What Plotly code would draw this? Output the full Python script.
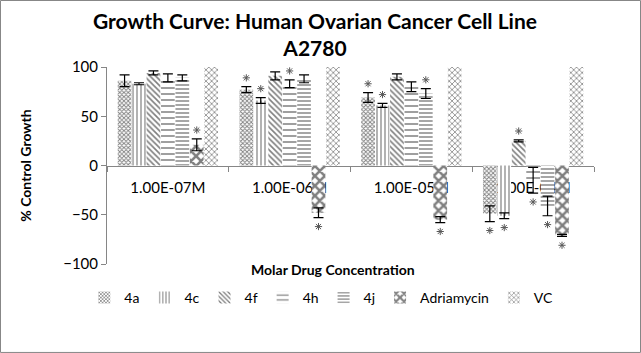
import plotly.graph_objects as go

# Molar concentrations (x categories)
concentrations = ['1.00E-07M', '1.00E-06M', '1.00E-05M', '1.00E-04M']

# % control growth, per compound
series_names = ['4a', '4c', '4f', '4h', '4j', 'Adriamycin', 'VC']
growth_4a = [86, 77, 69, -49]
growth_4c = [83, 66, 61, -51]
growth_4f = [94, 91, 90, 25]
growth_4h = [89, 83, 80, -15]
growth_4j = [89, 88, 73, -41]
growth_adr = [21, -48, -55, -71]
growth_vc = [100, 100, 100, 100]

err_4a = [6, 3, 5, 8]
err_4c = [1, 3, 2, 3]
err_4f = [2, 4, 3, 1]
err_4h = [4, 4, 5, 13]
err_4j = [3, 4, 5, 10]
err_adr = [6, 5, 3, 1]
err_vc = [0, 0, 0, 0]

# significance flags (asterisk)
sig_4a = [False, True, True, True]
sig_4c = [False, True, True, True]
sig_4f = [False, False, False, True]
sig_4h = [False, True, False, True]
sig_4j = [False, False, True, True]
sig_adr = [True, True, True, True]
sig_vc = [False, False, False, False]

values = [growth_4a, growth_4c, growth_4f, growth_4h, growth_4j, growth_adr, growth_vc]
errors = [err_4a, err_4c, err_4f, err_4h, err_4j, err_adr, err_vc]
sigs = [sig_4a, sig_4c, sig_4f, sig_4h, sig_4j, sig_adr, sig_vc]

patterns = [
    dict(shape='x', size=3, solidity=0.5),
    dict(shape='|', size=4, solidity=0.3),
    dict(shape='\\', size=4, solidity=0.4),
    dict(shape='-', size=6, solidity=0.25),
    dict(shape='-', size=4, solidity=0.35),
    dict(shape='x', size=7, solidity=0.6),
    dict(shape='x', size=4, solidity=0.35),
]

font = 'Lato, Open Sans, sans-serif'
star_gap = 9  # distance of the asterisk beyond the error bar, in axis units

fig = go.Figure()

for name, vals, errs, pat in zip(series_names, values, errors, patterns):
    fig.add_trace(go.Bar(
        x=concentrations, y=vals, name=name,
        marker=dict(color='white', line=dict(width=0),
                    pattern=dict(fgcolor='black', bgcolor='white', **pat)),
        error_y=dict(type='data', array=errs, visible=any(errs),
                     color='black', thickness=1.2, width=5),
    ))

# asterisks beyond the error bars
for name, vals, errs, sg in zip(series_names, values, errors, sigs):
    ys = [(v + e + star_gap if v >= 0 else v - e - star_gap) if s else None
          for v, e, s in zip(vals, errs, sg)]
    fig.add_trace(go.Scatter(
        x=concentrations, y=ys, mode='markers',
        marker=dict(symbol='asterisk-open', size=6, color='#595959',
                    line=dict(color='#595959', width=1)),
        showlegend=False, hoverinfo='skip',
    ))

fig.update_layout(
    width=641, height=353,
    margin=dict(l=107, r=47, t=67, b=89, autoexpand=False),
    paper_bgcolor='white', plot_bgcolor='white',
    barmode='group', bargap=0.17, bargroupgap=0.05,
    scattermode='group', scattergap=0.17,
    font=dict(family=font, size=14, color='black'),
    xaxis=dict(type='category', anchor='free', position=0.5,
               showline=True, linecolor='#868686', linewidth=1,
               ticks='outside', tickson='boundaries', ticklen=5, tickcolor='#868686',
               ticklabelstandoff=8,
               showgrid=False, layer='below traces',
               tickfont=dict(family=font, size=15, color='black')),
    yaxis=dict(range=[-100, 100], dtick=50, showgrid=False, zeroline=False,
               showline=True, linecolor='#868686', linewidth=1,
               ticks='outside', ticklen=5, tickcolor='#868686',
               tickfont=dict(family=font, size=15, color='black'),
               title=dict(text='<b>% Control Growth</b>', standoff=28,
                          font=dict(family=font, size=14))),
    legend=dict(orientation='h', x=0.44, xanchor='center',
                yref='container', y=0.156, yanchor='middle',
                font=dict(family=font, size=14), itemwidth=30, tracegroupgap=0),
    annotations=[
        dict(text='<b>Growth Curve: Human Ovarian Cancer Cell Line<br>A2780</b>',
             xref='paper', yref='paper', x=0.427, y=1.165,
             xanchor='center', yanchor='middle', showarrow=False,
             font=dict(family=font, size=21)),
        dict(text='<b>Molar Drug Concentration</b>', xref='paper', yref='paper',
             x=0.465, y=-0.03, xanchor='center', yanchor='middle', showarrow=False,
             font=dict(family=font, size=14)),
    ],
    shapes=[dict(type='rect', xref='paper', yref='paper',
                 x0=-0.2187, x1=1.0955, y0=-0.449, y1=1.3376,
                 line=dict(color='#868686', width=1))],
)

fig.write_html('out.html', config={'displayModeBar': False},
               post_script="document.body.style.margin='0';")
